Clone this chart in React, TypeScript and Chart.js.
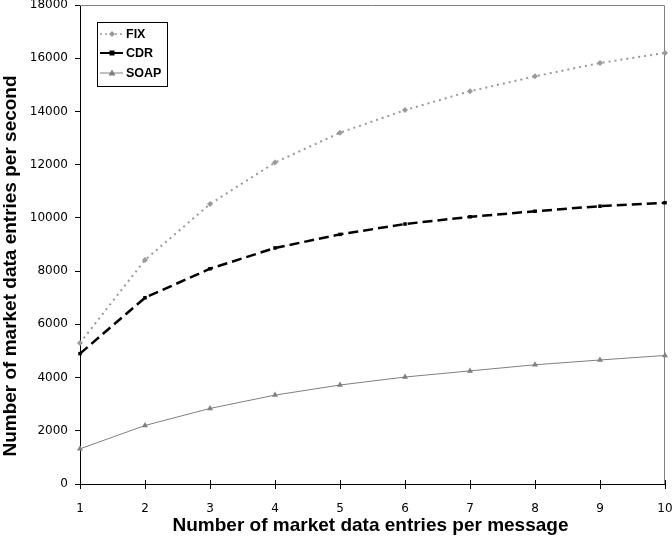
import { useEffect, useRef } from "react";
import { Chart, registerables } from "chart.js";

Chart.register(...registerables);

const categories = ["1", "2", "3", "4", "5", "6", "7", "8", "9", "10"];
const fixValues = [5300, 8420, 10520, 12080, 13200, 14050, 14760, 15320, 15820, 16200];
const cdrValues = [4900, 7000, 8090, 8870, 9380, 9770, 10040, 10250, 10440, 10570];
const soapValues = [1320, 2200, 2840, 3340, 3720, 4020, 4250, 4480, 4660, 4830];
const seriesNames = ["FIX", "CDR", "SOAP"];
const yMin = 0;
const yMax = 18000;
const yStep = 2000;
const xTitle = "Number of market data entries per message";
const yTitle = "Number of market data entries per second";

const FIX_COLOR = "#9a9a9a";
const CDR_COLOR = "#000000";
const SOAP_COLOR = "#808080";
const TICK_FONT = "DejaVu Sans";
const TITLE_FONT = "'Liberation Sans', Arial, sans-serif";

type LegendItem = { name: string; color: string; dash: number[]; width: number; marker: string };

function drawMarker(ctx: CanvasRenderingContext2D, kind: string, x: number, y: number, color: string) {
  ctx.save();
  ctx.fillStyle = color;
  ctx.strokeStyle = color;
  ctx.setLineDash([]);
  ctx.beginPath();
  if (kind === "rect") {
    ctx.rect(x - 2.5, y - 2.5, 5, 5);
  } else if (kind === "rectRot") {
    ctx.moveTo(x, y - 3);
    ctx.lineTo(x + 3, y);
    ctx.lineTo(x, y + 3);
    ctx.lineTo(x - 3, y);
    ctx.closePath();
  } else {
    ctx.moveTo(x, y - 3.5);
    ctx.lineTo(x + 3.5, y + 2.5);
    ctx.lineTo(x - 3.5, y + 2.5);
    ctx.closePath();
  }
  ctx.fill();
  ctx.restore();
}

const decorPlugin = {
  id: "decor",
  beforeDatasetsDraw(chart: any) {
    const { ctx, chartArea: a } = chart;
    ctx.save();
    ctx.strokeStyle = "#808080";
    ctx.lineWidth = 1;
    ctx.beginPath();
    ctx.moveTo(a.left, Math.round(a.top) + 0.5);
    ctx.lineTo(Math.round(a.right) - 0.5, Math.round(a.top) + 0.5);
    ctx.lineTo(Math.round(a.right) - 0.5, a.bottom);
    ctx.stroke();
    // x tick marks crossing the axis (inner part)
    const xs = chart.scales.x;
    ctx.strokeStyle = "#000";
    ctx.beginPath();
    for (let i = 0; i < categories.length; i++) {
      const px = Math.round(xs.getPixelForTick(i)) + 0.5;
      ctx.moveTo(px, a.bottom - 4);
      ctx.lineTo(px, a.bottom);
    }
    ctx.stroke();
    ctx.restore();
  },
  afterDraw(chart: any) {
    const { ctx, chartArea: a } = chart;
    ctx.save();
    // axis titles
    ctx.fillStyle = "#000";
    ctx.textAlign = "center";
    ctx.textBaseline = "alphabetic";
    ctx.font = `bold 19px ${TITLE_FONT}`;
    ctx.fillText(xTitle, (a.left + a.right) / 2 - 2, 531);
    ctx.save();
    ctx.translate(16, 266);
    ctx.rotate(-Math.PI / 2);
    ctx.fillText(yTitle, 0, 0);
    ctx.restore();

    // legend
    const items: LegendItem[] = [
      { name: seriesNames[0], color: FIX_COLOR, dash: [2, 3], width: 1.5, marker: "rectRot" },
      { name: seriesNames[1], color: CDR_COLOR, dash: [], width: 2, marker: "rect" },
      { name: seriesNames[2], color: SOAP_COLOR, dash: [], width: 1, marker: "triangle" },
    ];
    const bx = 97.5, by = 22.5, bw = 70, bh = 64;
    ctx.fillStyle = "#fff";
    ctx.fillRect(bx, by, bw, bh);
    ctx.strokeStyle = "#000";
    ctx.lineWidth = 1;
    ctx.setLineDash([]);
    ctx.strokeRect(bx, by, bw, bh);
    const rowY = [34, 53, 73];
    ctx.font = `bold 12.5px ${TITLE_FONT}`;
    ctx.textAlign = "left";
    ctx.textBaseline = "middle";
    items.forEach((it, i) => {
      const y = rowY[i];
      ctx.strokeStyle = it.color;
      ctx.lineWidth = it.width;
      ctx.setLineDash(it.dash);
      ctx.beginPath();
      ctx.moveTo(100, y);
      ctx.lineTo(123, y);
      ctx.stroke();
      ctx.setLineDash([]);
      drawMarker(ctx, it.marker, 112, y, it.color);
      ctx.fillStyle = "#000";
      ctx.fillText(it.name, 126, y + 0.5);
    });
    ctx.restore();
  },
};

export default function App() {
  const canvasRef = useRef<HTMLCanvasElement | null>(null);

  useEffect(() => {
    const canvas = canvasRef.current;
    if (!canvas) return;
    const chart = new Chart(canvas, {
      type: "line",
      data: {
        labels: categories,
        datasets: [
          {
            label: seriesNames[0],
            data: fixValues,
            borderColor: FIX_COLOR,
            backgroundColor: FIX_COLOR,
            borderWidth: 2,
            borderDash: [2, 4],
            pointStyle: "rectRot",
            pointRadius: 3,
            pointBorderWidth: 0,
            fill: false,
            tension: 0,
          },
          {
            label: seriesNames[1],
            data: cdrValues,
            borderColor: CDR_COLOR,
            backgroundColor: CDR_COLOR,
            borderWidth: 2.5,
            borderDash: [10, 5],
            pointStyle: "rect",
            pointRadius: 2.5,
            pointBorderWidth: 0,
            fill: false,
            tension: 0,
          },
          {
            label: seriesNames[2],
            data: soapValues,
            borderColor: SOAP_COLOR,
            backgroundColor: SOAP_COLOR,
            borderWidth: 1,
            pointStyle: "triangle",
            pointRadius: 3.5,
            pointBorderWidth: 0,
            fill: false,
            tension: 0,
          },
        ],
      },
      options: {
        responsive: false,
        animation: false,
        layout: { padding: { left: 0, right: 7, top: 5, bottom: 0 } },
        plugins: {
          legend: { display: false },
          tooltip: { enabled: false },
          title: { display: false },
        },
        scales: {
          x: {
            type: "category",
            offset: false,
            grid: {
              display: true,
              drawOnChartArea: false,
              drawTicks: true,
              tickLength: 5,
              color: "#000",
            },
            border: { display: true, color: "#000", width: 1 },
            ticks: {
              color: "#000",
              font: { family: TICK_FONT, size: 12 },
              padding: 13,
              maxRotation: 0,
              autoSkip: false,
            },
            afterFit(scale: any) {
              scale.height = 53;
              scale.paddingLeft = 0;
              scale.paddingRight = 0;
            },
          },
          y: {
            min: yMin,
            max: yMax,
            grid: {
              display: true,
              drawOnChartArea: false,
              drawTicks: true,
              tickLength: 5,
              color: "#000",
            },
            border: { display: true, color: "#000", width: 1 },
            ticks: {
              stepSize: yStep,
              color: "#000",
              font: { family: TICK_FONT, size: 12 },
              padding: 7,
              callback: (v: any) => String(v),
            },
            afterFit(scale: any) {
              scale.width = 80;
              scale.paddingTop = 0;
              scale.paddingBottom = 0;
            },
          },
        },
      },
      plugins: [decorPlugin],
    });
    return () => chart.destroy();
  }, []);

  return (
    <div style={{ position: "absolute", left: 0, top: 0, width: 672, height: 537, background: "#fff" }}>
      <canvas ref={canvasRef} width={672} height={537} style={{ display: "block" }} />
    </div>
  );
}
